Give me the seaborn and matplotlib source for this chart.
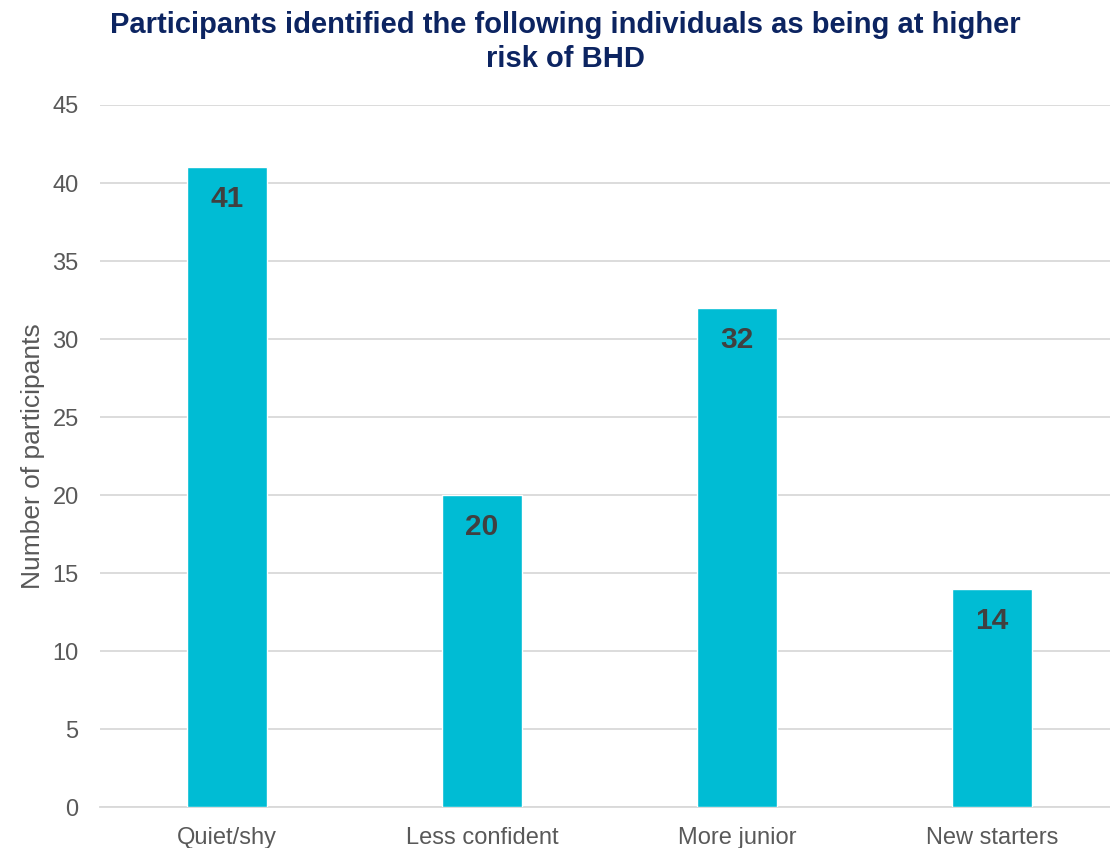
import matplotlib
matplotlib.use("Agg")
import matplotlib.pyplot as plt
import seaborn as sns
import pandas as pd

categories = ["Quiet/shy", "Less confident", "More junior", "New starters"]
counts = [41, 20, 32, 14]

df = pd.DataFrame({"group": categories, "n": counts})

sns.set_style("white")
plt.rcParams["font.family"] = ["Liberation Sans", "DejaVu Sans"]

fig = plt.figure(figsize=(11.1, 8.48), dpi=100)
# plot area runs slightly past the right edge of the canvas, like the original
ax = fig.add_axes([99.5 / 1110, 1 - 807 / 848, 1020 / 1110, (807 - 105) / 848])

sns.barplot(data=df, x="group", y="n", color="#00BCD4", width=80 / 255,
            saturation=1, ax=ax, zorder=3)

ax.set_ylim(0, 45)
ax.set_yticks(range(0, 46, 5))
ax.set_xlim(-0.5, 3.5)
ax.yaxis.grid(True, color="#D9D9D9", linewidth=1.3, zorder=0)
ax.set_axisbelow(True)
for s in ["top", "right", "left"]:
    ax.spines[s].set_visible(False)
ax.spines["bottom"].set_color("#D9D9D9")
ax.spines["bottom"].set_linewidth(1.3)

ax.tick_params(axis="both", length=0, labelsize=17, labelcolor="#595959")
ax.tick_params(axis="y", pad=15)
ax.tick_params(axis="x", pad=14.5)
ax.set_xlabel("")
ax.set_ylabel("Number of participants", fontsize=19, color="#595959", labelpad=5)

for i, v in enumerate(counts):
    ax.text(i, v - 2.05, str(v), ha="center", va="center", fontsize=21.5,
            fontweight="bold", color="#404040", zorder=4)

fig.text(565 / 1110, 1 - 42 / 848,
         "Participants identified the following individuals as being at higher\nrisk of BHD",
         ha="center", va="center", fontsize=21, fontweight="bold", color="#0C2461",
         linespacing=1.3)

fig.savefig("out.png", dpi=100)
